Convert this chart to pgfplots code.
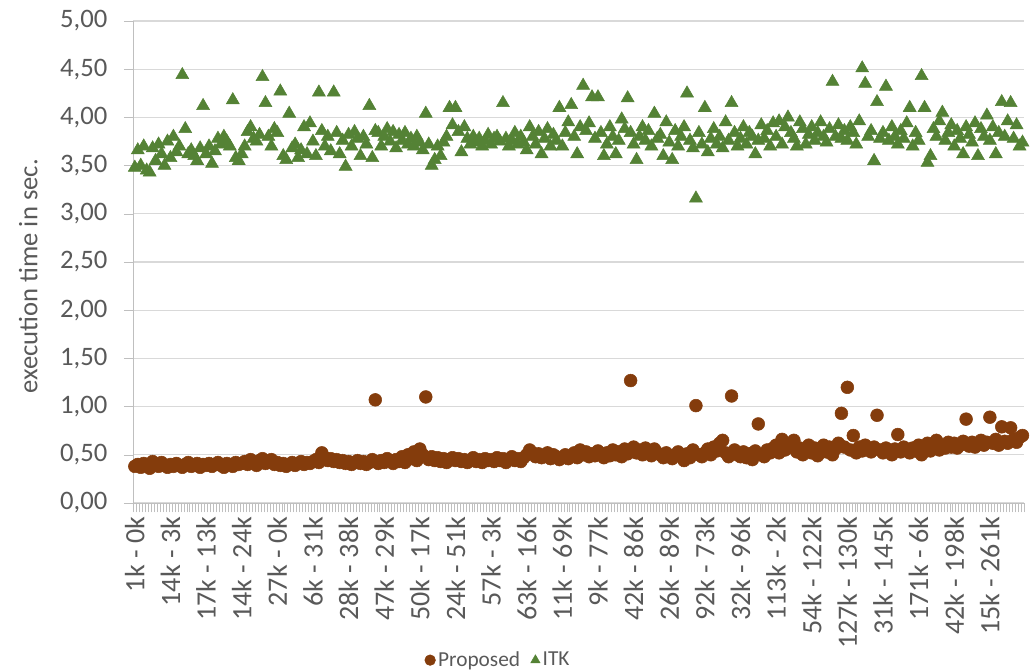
\documentclass[border=0pt]{standalone}
\usepackage{pgfplots}
\pgfplotsset{compat=1.18}
\usepackage{fontspec}
\setmainfont{Carlito}
\definecolor{itkgreen}{HTML}{548235}
\definecolor{propbrown}{HTML}{843C0C}
\definecolor{ticktext}{HTML}{595959}
\definecolor{gridgray}{HTML}{D9D9D9}
\definecolor{axisgray}{HTML}{BFBFBF}
\begin{document}
\begin{tikzpicture}
\begin{axis}[
  scale only axis,
  width=668pt, height=361.5pt,
  xmin=-0.5, xmax=299.5,
  ymin=0, ymax=5,
  ytick={0,0.5,...,5},
  axis x line=bottom, axis y line=left,
  axis line style={-, draw=axisgray},
  ymajorgrids, grid style={draw=gridgray, line width=0.8pt},
  yticklabel style={/pgf/number format/fixed, /pgf/number format/fixed zerofill, /pgf/number format/precision=2, /pgf/number format/use comma, /pgf/number format/assume math mode=true, font=\fontsize{20}{20}\selectfont, text=ticktext, xshift=-9pt},
  major tick length=7pt,
  tick style={draw=axisgray},
  ytick align=outside,
  xtick={0,12,...,288},
  xticklabels={1k - 0k, 14k - 3k, 17k - 13k, 14k - 24k, 27k - 0k, 6k - 31k, 28k - 38k, 47k - 29k, 50k - 17k, 24k - 51k, 57k - 3k, 63k - 16k, 11k - 69k, 9k - 77k, 42k - 86k, 26k - 89k, 92k - 73k, 32k - 96k, 113k - 2k, 54k - 122k, 127k - 130k, 31k - 145k, 171k - 6k, 42k - 198k, 15k - 261k},
  xticklabel style={rotate=90, anchor=east, font=\fontsize{21}{21}\selectfont, text=ticktext},
  x tick style={draw=none},
  minor xtick={-0.5,0.5,...,299.5},
  minor x tick style={draw=axisgray, line width=0.4pt},
  xtick align=outside,
  minor tick length=7pt,
  ylabel={execution time in sec.},
  every axis y label/.style={at={(axis description cs:-0.118,0.47)}, rotate=90, anchor=center, font=\fontsize{20}{20}\selectfont, text=ticktext},
  legend style={at={(0.41,-0.326)}, anchor=center, draw=none, fill=none, font=\fontsize{16}{16}\selectfont, text=ticktext, /tikz/every even column/.append style={column sep=6pt}, /tikz/every odd column/.append style={}},
  legend columns=2,
  legend image code/.code={\draw[#1, mark size=4pt] plot coordinates {(0pt,0pt)};},
  clip=false,
]
\addplot[only marks, mark=*, mark size=4.8pt, draw=propbrown, fill=propbrown] table[row sep=\\, header=false, x expr=\coordindex, y index=0] {
0.38\\0.40\\0.37\\0.41\\0.39\\0.36\\0.43\\0.40\\0.38\\0.42\\0.39\\0.37\\
0.40\\0.38\\0.41\\0.39\\0.37\\0.40\\0.42\\0.38\\0.39\\0.41\\0.37\\0.40\\
0.39\\0.41\\0.38\\0.40\\0.42\\0.39\\0.37\\0.41\\0.40\\0.38\\0.42\\0.40\\
0.41\\0.43\\0.40\\0.45\\0.42\\0.39\\0.44\\0.46\\0.41\\0.43\\0.45\\0.40\\
0.42\\0.39\\0.41\\0.38\\0.40\\0.42\\0.39\\0.41\\0.43\\0.40\\0.42\\0.41\\
0.43\\0.45\\0.42\\0.52\\0.47\\0.44\\0.46\\0.43\\0.45\\0.42\\0.44\\0.41\\
0.43\\0.40\\0.42\\0.44\\0.41\\0.43\\0.40\\0.42\\0.45\\1.07\\0.41\\0.44\\
0.42\\0.46\\0.44\\0.41\\0.45\\0.43\\0.48\\0.42\\0.50\\0.46\\0.53\\0.44\\
0.56\\0.50\\1.10\\0.45\\0.48\\0.44\\0.47\\0.43\\0.46\\0.42\\0.45\\0.47\\
0.44\\0.46\\0.43\\0.45\\0.42\\0.44\\0.47\\0.43\\0.45\\0.42\\0.46\\0.44\\
0.45\\0.43\\0.47\\0.44\\0.46\\0.42\\0.45\\0.48\\0.44\\0.46\\0.43\\0.47\\
0.50\\0.55\\0.52\\0.48\\0.51\\0.47\\0.49\\0.52\\0.46\\0.50\\0.48\\0.45\\
0.47\\0.50\\0.46\\0.49\\0.52\\0.47\\0.55\\0.50\\0.53\\0.48\\0.51\\0.49\\
0.54\\0.50\\0.47\\0.52\\0.49\\0.55\\0.50\\0.53\\0.48\\0.56\\0.51\\1.27\\
0.58\\0.52\\0.55\\0.50\\0.57\\0.53\\0.49\\0.56\\0.52\\0.50\\0.47\\0.52\\
0.49\\0.46\\0.50\\0.53\\0.48\\0.44\\0.51\\0.47\\0.55\\1.01\\0.50\\0.48\\
0.52\\0.56\\0.50\\0.58\\0.54\\0.62\\0.65\\0.52\\0.48\\1.11\\0.55\\0.50\\
0.48\\0.53\\0.47\\0.51\\0.45\\0.54\\0.82\\0.50\\0.48\\0.55\\0.52\\0.57\\
0.60\\0.52\\0.66\\0.55\\0.62\\0.58\\0.65\\0.53\\0.57\\0.50\\0.55\\0.60\\
0.52\\0.57\\0.49\\0.55\\0.60\\0.53\\0.58\\0.50\\0.56\\0.62\\0.93\\0.58\\
1.20\\0.55\\0.70\\0.52\\0.58\\0.54\\0.60\\0.56\\0.53\\0.58\\0.91\\0.55\\
0.52\\0.57\\0.54\\0.50\\0.56\\0.71\\0.53\\0.58\\0.55\\0.52\\0.57\\0.54\\
0.60\\0.50\\0.56\\0.62\\0.54\\0.58\\0.65\\0.55\\0.60\\0.57\\0.63\\0.58\\
0.62\\0.57\\0.60\\0.64\\0.87\\0.59\\0.63\\0.58\\0.61\\0.65\\0.60\\0.63\\
0.89\\0.62\\0.66\\0.60\\0.79\\0.64\\0.62\\0.78\\0.66\\0.63\\0.68\\0.70\\
};
\addlegendentry{Proposed}
\addplot[only marks, mark=triangle*, mark size=5.6pt, draw=itkgreen, fill=itkgreen] table[row sep=\\, header=false, x expr=\coordindex, y index=0] {
3.48\\3.66\\3.50\\3.70\\3.45\\3.43\\3.68\\3.55\\3.72\\3.62\\3.50\\3.75\\
3.58\\3.80\\3.64\\3.70\\4.44\\3.88\\3.62\\3.66\\3.60\\3.55\\3.68\\4.12\\
3.62\\3.70\\3.52\\3.65\\3.78\\3.72\\3.80\\3.75\\3.70\\4.18\\3.58\\3.55\\
3.62\\3.70\\3.85\\3.90\\3.78\\3.75\\3.82\\4.42\\4.15\\3.80\\3.70\\3.88\\
3.84\\4.27\\3.60\\3.56\\4.04\\3.68\\3.72\\3.58\\3.66\\3.90\\3.62\\3.94\\
3.75\\3.60\\4.26\\3.86\\3.70\\3.80\\3.65\\4.26\\3.84\\3.62\\3.76\\3.49\\
3.82\\3.70\\3.85\\3.78\\3.60\\3.80\\3.72\\4.12\\3.58\\3.86\\3.84\\3.70\\
3.80\\3.88\\3.75\\3.85\\3.68\\3.82\\3.76\\3.84\\3.72\\3.78\\3.70\\3.80\\
3.74\\3.66\\4.04\\3.72\\3.50\\3.56\\3.70\\3.60\\3.74\\3.80\\4.10\\3.92\\
4.10\\3.85\\3.64\\3.90\\3.78\\3.72\\3.80\\3.74\\3.78\\3.70\\3.76\\3.82\\
3.72\\3.78\\3.80\\3.75\\4.15\\3.78\\3.70\\3.76\\3.84\\3.72\\3.80\\3.74\\
3.66\\3.90\\3.80\\3.72\\3.85\\3.62\\3.78\\3.88\\3.70\\3.82\\3.76\\4.10\\
3.70\\3.84\\3.95\\4.13\\3.80\\3.62\\3.90\\4.33\\3.86\\3.94\\4.21\\3.78\\
4.21\\3.84\\3.60\\3.72\\3.90\\3.80\\3.62\\3.76\\3.98\\3.88\\4.20\\3.84\\
3.72\\3.56\\3.80\\3.90\\3.76\\3.86\\3.70\\4.04\\3.78\\3.82\\3.60\\3.95\\
3.74\\3.56\\3.86\\3.70\\3.80\\3.90\\4.25\\3.76\\3.68\\3.16\\3.84\\3.72\\
4.10\\3.64\\3.78\\3.88\\3.72\\3.80\\3.68\\3.95\\3.76\\4.15\\3.84\\3.70\\
3.78\\3.90\\3.72\\3.84\\3.80\\3.62\\3.76\\3.92\\3.78\\3.86\\3.70\\3.94\\
3.80\\3.96\\3.72\\3.90\\4.00\\3.84\\3.78\\3.70\\3.95\\3.88\\3.72\\3.82\\
3.90\\3.76\\3.84\\3.95\\3.80\\3.74\\3.88\\4.37\\3.80\\3.92\\3.78\\3.86\\
3.76\\3.90\\3.84\\3.72\\3.96\\4.51\\4.35\\3.80\\3.86\\3.55\\4.16\\3.78\\
3.84\\4.32\\3.76\\3.90\\3.80\\3.72\\3.86\\3.78\\3.94\\4.10\\3.70\\3.84\\
3.76\\4.43\\4.10\\3.53\\3.60\\3.88\\3.80\\3.96\\4.05\\3.76\\3.84\\3.92\\
3.70\\3.86\\3.78\\3.62\\3.90\\3.82\\3.74\\3.94\\3.60\\3.88\\3.80\\4.02\\
3.76\\3.90\\3.62\\3.84\\4.16\\3.80\\3.96\\4.15\\3.78\\3.92\\3.70\\3.74\\
};
\addlegendentry{ITK}
\end{axis}
\pgfresetboundingbox
\path ([shift={(-100pt,-126.75pt)}]current axis.south west) rectangle ([shift={(8.25pt,15.75pt)}]current axis.north east);
\end{tikzpicture}
\end{document}
